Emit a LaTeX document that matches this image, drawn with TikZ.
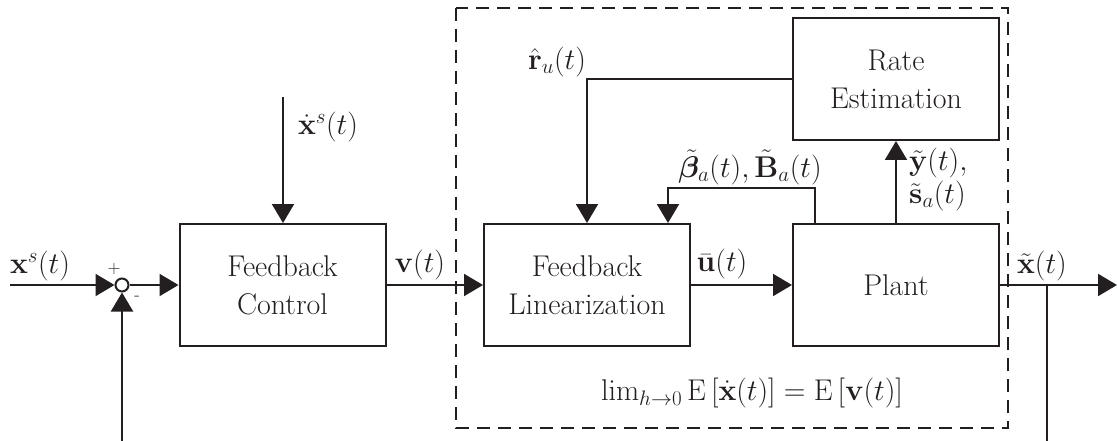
\RequirePackage{fix-cm}
\documentclass[tikz,border=0pt]{standalone}
\usepackage{amsmath}
\usepackage{bm}
\usetikzlibrary{arrows.meta,positioning}
\definecolor{ink}{RGB}{35,31,32}
\tikzset{
  blk/.style={draw=ink, text=ink, line width=2pt, minimum width=206pt, minimum height=122pt, align=center, inner sep=0pt, font=\fontsize{30}{38}\selectfont},
  conn/.style={draw=ink, line width=2pt},
  arr/.style={conn, -{Triangle[length=19pt,width=22pt]}},
  lbl/.style={inner sep=0pt, text=ink, font=\fontsize{30}{34}\selectfont},
  sgn/.style={inner sep=0pt, text=ink, font=\fontsize{18}{20}\selectfont},
  sumc/.style={circle, draw=ink, line width=2pt, fill=white, minimum size=13pt, inner sep=0pt},
  dbox/.style={draw=ink, line width=2pt, dash pattern=on 13pt off 8pt}
}
\begin{document}
\begin{tikzpicture}[x=1pt,y=-1pt]
\useasboundingbox (0,0) rectangle (1117,441);
% dashed box
\draw[dbox] (456,8) rectangle (1008,428);
% blocks
\node[blk] (fc) at (282.5,285) {Feedback\\Control};
\node[blk] (fl) at (587,285) {Feedback\\Linearization};
\node[blk] (pl) at (896,285) {Plant};
\node[blk] (re) at (896,79) {Rate\\Estimation};
\node[sumc] (sum) at (122,285) {};
% free ends
\coordinate (in) at (10,285);
\coordinate (fbin) at (122,441);
\coordinate (xdin) at (283,97);
\coordinate (out) at (1117,285);
\coordinate (tap) at (1047,285);
\coordinate (fbout) at (1047,441);
\coordinate (rcorner) at (587,79);
\coordinate (bup) at (815,188);
\coordinate (bleft) at (668,188);
% connectors
\draw[arr] (in) -- (sum);
\draw[arr] (fbin) -- (sum);
\draw[arr] (sum) -- (fc);
\draw[arr] (xdin) -- (fc.north -| xdin);
\draw[arr] (fc) -- (fl);
\draw[arr] (fl) -- (pl);
\draw[arr] (pl.east) -- (out);
\draw[conn] (tap) -- (fbout);
\draw[arr] (re.west |- rcorner) -- (rcorner) -- (fl.north -| rcorner);
\draw[arr] (pl.north -| bup) -- (bup) -- (bleft) -- (fl.north -| bleft);
\draw[arr] (pl.north) -- (re.south);
% labels
\node[lbl] (lxs) at (40,266) {$\mathbf{x}^{s}(t)$};
\node[sgn] (lp) at (114,269) {+};
\node[sgn] (lm) at (137,298) {-};
\node[lbl] (lxd) at (328,127) {$\dot{\mathbf{x}}^{s}(t)$};
\node[lbl] (lv) at (420,265) {$\mathbf{v}(t)$};
\node[lbl] (lr) at (557,62) {$\hat{\mathbf{r}}_u(t)$};
\node[lbl] (lb) at (750,167) {$\tilde{\bm{\beta}}_a(t),\tilde{\mathbf{B}}_a(t)$};
\node[lbl] (lu) at (722,264) {$\bar{\mathbf{u}}(t)$};
\node[lbl,anchor=west] (ly) at (909,163) {$\tilde{\mathbf{y}}(t),$};
\node[lbl,anchor=west] (ls) at (909,196) {$\tilde{\mathbf{s}}_a(t)$};
\node[lbl] (lx) at (1042,266) {$\tilde{\mathbf{x}}(t)$};
\node[lbl] (llim) at (752,393) {$\lim_{h\to0}\mathrm{E}\left[\dot{\mathbf{x}}(t)\right]=\mathrm{E}\left[\mathbf{v}(t)\right]$};
\end{tikzpicture}
\end{document}
